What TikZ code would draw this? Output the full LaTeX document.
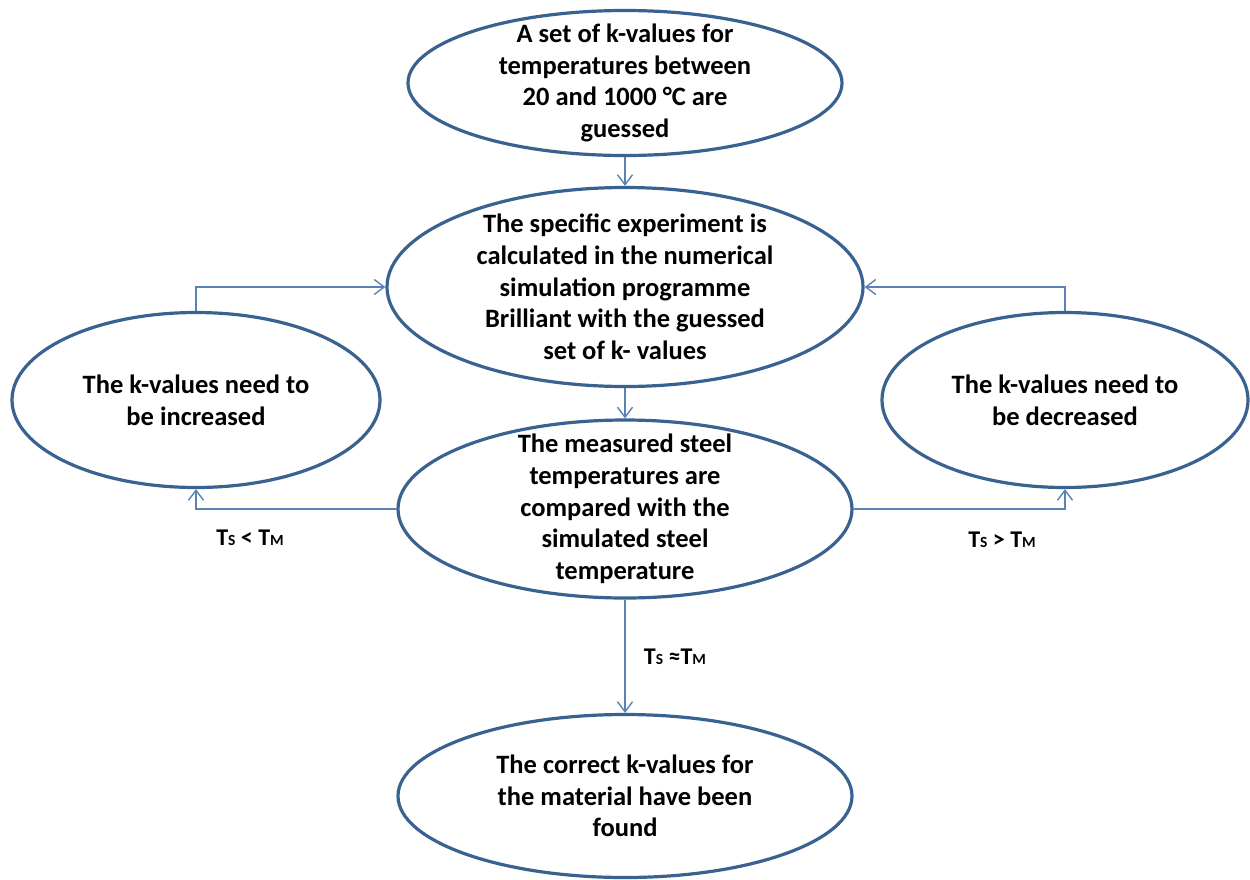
\documentclass[tikz,border=0pt]{standalone}
\usepackage{fontspec}
\setmainfont{Carlito}
\usetikzlibrary{shapes.geometric,arrows.meta}
\definecolor{ovalblue}{HTML}{3A6291}
\definecolor{lineblue}{HTML}{5B82B5}
\newcommand{\tsub}[1]{{\fontsize{15.5}{15.5}\selectfont #1}}
\begin{document}
\begin{tikzpicture}[x=1pt,y=-1pt,
    oval/.style={ellipse,draw=ovalblue,line width=3.2pt,fill=white,
      inner sep=-30pt,align=center,
      font=\bfseries\fontsize{26.5}{31.7}\selectfont},
    cond/.style={font=\bfseries\fontsize{24}{28}\selectfont},
    >={Straight Barb[length=10pt,width=15pt]}]
  \useasboundingbox (0,0) rectangle (1250,879);
  \draw
    (625,83) node[oval,minimum width=434pt,minimum height=145pt] (0){A set of k-values for\\temperatures between\\20 and 1000 °C are\\guessed}
    (625,287) node[oval,minimum width=476pt,minimum height=199pt] (1){The specific experiment is\\calculated in the numerical\\simulation programme\\Brilliant with the guessed\\set of k- values}
    (196,400) node[oval,minimum width=368pt,minimum height=175pt] (2){The k-values need to\\be increased}
    (625,509) node[oval,minimum width=454pt,minimum height=178pt] (3){The measured steel\\temperatures are\\compared with the\\simulated steel\\temperature}
    (1065,400) node[oval,minimum width=366pt,minimum height=175pt] (4){The k-values need to\\be decreased}
    (625,796) node[oval,minimum width=454pt,minimum height=163pt] (5){The correct k-values for\\the material have been\\found};
  \draw
    (250,538) node[cond] (6){T\tsub{S} < T\tsub{M}}
    (1002,540) node[cond] (7){T\tsub{S} > T\tsub{M}}
    (675,657) node[cond] (8){T\tsub{S} ≈T\tsub{M}};
  \begin{scope}[->,draw=lineblue,line width=1.4pt]
    \draw (0) to (1);
    \draw (1) to (3);
    \draw (2.north) |- (1.west);
    \draw (4.north) |- (1.east);
    \draw (3.west) -| (2.south);
    \draw (3.east) -| (4.south);
    \draw (3) to (5);
  \end{scope}
\end{tikzpicture}
\end{document}
